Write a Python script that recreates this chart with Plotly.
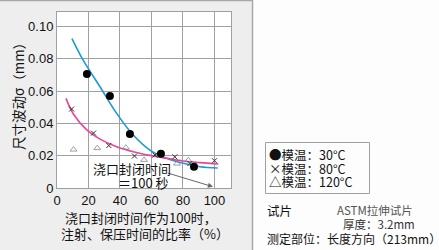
import plotly.graph_objects as go

# Data
dot_x = [19, 33.6, 46.3, 66, 87]
dot_y = [0.0706, 0.057, 0.0334, 0.0212, 0.0132]
cross_x = [9.3, 23.2, 32.9, 49.2, 62.2, 74.8, 84.4, 100]
cross_y = [0.0489, 0.0340, 0.0263, 0.0198, 0.0204, 0.0193, 0.0152, 0.0169]
tri_x = [10.5, 25.6, 43.7, 55.3, 76.2, 83.4]
tri_y = [0.0238, 0.0247, 0.0250, 0.0174, 0.0151, 0.0172]
blue_x = [9.5, 16.7, 27.3, 37.9, 48.4, 59, 69.6, 80.2, 90.8, 102]
blue_y = [0.0925, 0.079, 0.0627, 0.0462, 0.0328, 0.0235, 0.0184, 0.0153, 0.0132, 0.0124]
pink_x = [5.7, 10.3, 18.9, 27.3, 37.9, 48.4, 59, 69.6, 80.2, 90.8, 102.4]
pink_y = [0.0555, 0.046, 0.036, 0.0303, 0.0256, 0.0225, 0.0202, 0.0184, 0.0167, 0.0157, 0.0149]
x_ticks = [0, 20, 40, 60, 80, 100]
y_ticks = [0, 0.02, 0.04, 0.06, 0.08, 0.10]
y_tick_text = ["0", "0.02", "0.04", "0.06", "0.08", "0.10"]
legend_lines = ["●模温：30°C", "×模温：80°C", "△模温：120°C"]

W, H = 439, 250
L, R, T, B = 57, 208, 12, 62
PW, PH = W - L - R, H - T - B

def px(x):
    return (x - L) / PW

def py(y):
    return (H - B - y) / PH

FONT = "Liberation Sans, Noto Sans CJK SC, sans-serif"
CJK = "Noto Sans CJK SC, sans-serif"

fig = go.Figure()
fig.add_trace(go.Scatter(x=blue_x, y=blue_y, mode="lines", line=dict(color="#1b9ad6", width=1.6, shape="spline")))
fig.add_trace(go.Scatter(x=pink_x, y=pink_y, mode="lines", line=dict(color="#e8469b", width=1.6, shape="spline")))
fig.add_trace(go.Scatter(x=tri_x, y=tri_y, mode="markers",
                         marker=dict(symbol="triangle-up-open", size=6, color="#888888", line=dict(width=0.8))))
fig.add_trace(go.Scatter(x=cross_x, y=cross_y, mode="markers",
                         marker=dict(symbol="x-thin-open", size=5, color="#333333", line=dict(width=1, color="#333333"))))
fig.add_trace(go.Scatter(x=dot_x, y=dot_y, mode="markers",
                         marker=dict(symbol="circle", size=8, color="#000000")))

# white right panel and borders
fig.add_shape(type="rect", xref="paper", yref="paper", x0=px(253), x1=px(W + 5), y0=py(H + 5), y1=py(-5),
              fillcolor="#fdfdfd", line=dict(width=0), layer="below")
fig.add_shape(type="line", xref="paper", yref="paper", x0=px(252.5), x1=px(252.5), y0=py(H), y1=py(0),
              line=dict(color="#a8a8a8", width=1.5), layer="below")
fig.add_shape(type="line", xref="paper", yref="paper", x0=px(0), x1=px(252.5), y0=py(0.5), y1=py(0.5),
              line=dict(color="#a8a8a8", width=1.5), layer="below")
# legend box
fig.add_shape(type="rect", xref="paper", yref="paper", x0=px(265.5), x1=px(369.5), y0=py(193.5), y1=py(142.5),
              fillcolor="rgba(0,0,0,0)", line=dict(color="#a0a0a0", width=1))

def txt(x, y, text, size=13, color="#111111", family=FONT, xa="left", align="left", angle=0):
    return dict(x=px(x), y=py(y), xref="paper", yref="paper", xanchor=xa, yanchor="middle",
                text=text, align=align, showarrow=False, textangle=angle,
                font=dict(size=size, color=color, family=family))

annos = []
# inside annotation with arrow
annos.append(dict(x=99, y=0.0008, ax=69.5, ay=0.0095, xref="x", yref="y", axref="x", ayref="y",
                  text="", showarrow=True, arrowhead=2, arrowsize=1, arrowwidth=1, arrowcolor="#666666"))
annos.append(txt(91, 168, "浇口封闭时间", size=13, family=CJK))
annos.append(txt(116, 182.5, "＝100 秒", size=13, family=CJK))
# axis titles
annos.append(txt(18, 93, "尺寸波动σ（mm）", size=13.5, family=CJK, xa="center", align="center", angle=-90))
annos.append(txt(141, 217.5, "浇口封闭时间作为100时，", size=13, family=CJK, xa="center", align="center"))
annos.append(txt(145, 233, "注射、保压时间的比率（%）", size=13, family=CJK, xa="center", align="center"))
# right panel texts
for i, line in enumerate(legend_lines):
    annos.append(txt(267, 154.5 + 13.5 * i, line, size=12.5, family=CJK))
annos.append(txt(265, 210, "试片", size=12.5, family=CJK))
annos.append(txt(335, 210, "ASTM拉伸试片", size=11.5, color="#555555", family=CJK))
annos.append(txt(341, 224, "厚度：3.2mm", size=11.5, color="#333333", family=CJK))
annos.append(txt(265, 238, "测定部位：长度方向（213mm）", size=12, family=CJK))

fig.update_layout(
    width=W, height=H, margin=dict(l=L, r=R, t=T, b=B),
    paper_bgcolor="#eeeeee", plot_bgcolor="#ffffff", showlegend=False,
    annotations=annos,
    font=dict(family=FONT, size=13, color="#111111"),
)
fig.update_xaxes(range=[0, 110.5], tickvals=x_ticks, showgrid=True, gridcolor="#a0a0a0", gridwidth=1,
                 zeroline=False, showline=True, linecolor="#a0a0a0", mirror=True, ticks="",
                 tickfont=dict(size=13, family=FONT, color="#111111"))
fig.update_yaxes(range=[0, 0.109], tickvals=y_ticks, ticktext=y_tick_text, showgrid=True, gridcolor="#a0a0a0",
                 gridwidth=1, zeroline=False, showline=True, linecolor="#a0a0a0", mirror=True, ticks="",
                 tickfont=dict(size=13, family=FONT, color="#111111"))

fig.write_html("out.html")
